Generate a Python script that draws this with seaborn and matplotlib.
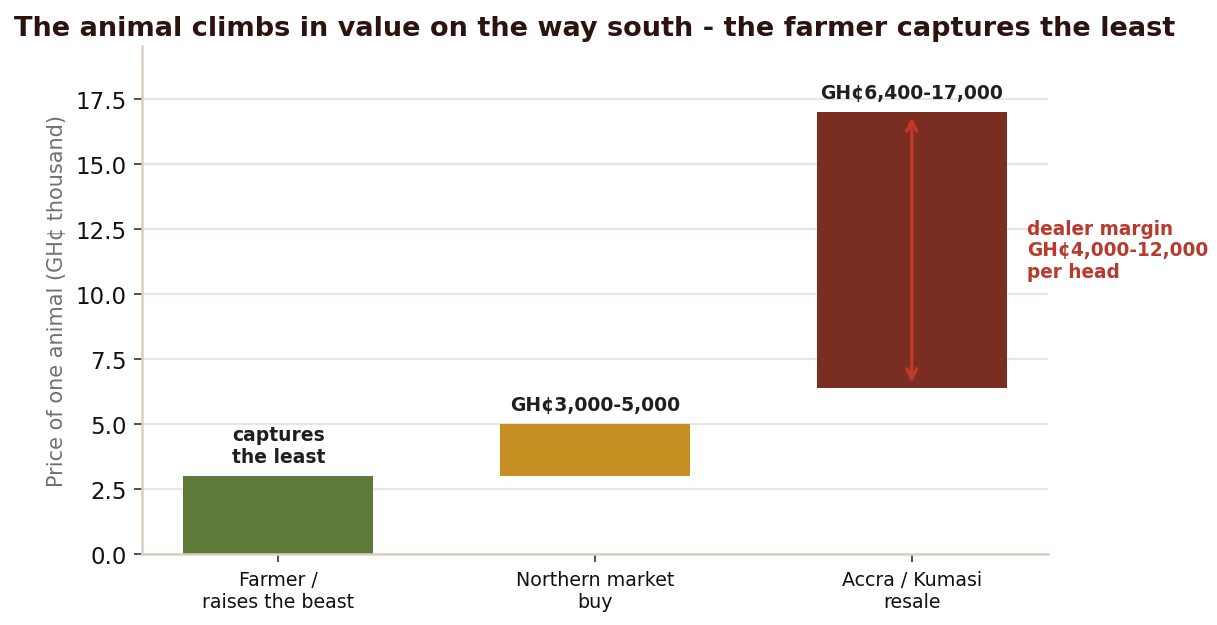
import matplotlib
matplotlib.use("Agg")
import matplotlib.pyplot as plt
import seaborn as sns
import numpy as np

stages = ["Farmer /\nraises the beast", "Northern market\nbuy", "Accra / Kumasi\nresale"]
price_low = [0.0, 3.0, 6.4]
price_high = [3.0, 5.0, 17.0]
bar_labels = ["captures\nthe least", "GH¢3,000-5,000", "GH¢6,400-17,000"]
bar_colors = ["#5f7a38", "#c68f22", "#7a2e22"]
margin_text = "dealer margin\nGH¢4,000-12,000\nper head"

sns.set_style("white")
plt.rcParams["font.family"] = ["DejaVu Sans"]

fig = plt.figure(figsize=(1217 / 150, 626 / 150), dpi=150)
ax = fig.add_axes([142 / 1217, 71 / 626, 906 / 1217, 508 / 626])

heights = np.array(price_high) - np.array(price_low)
sns.barplot(x=stages, y=heights, hue=stages, palette=bar_colors, legend=False,
            width=0.6, saturation=1, linewidth=0, ax=ax, zorder=2)
for patch, low in zip(ax.patches, price_low):
    patch.set_y(low)

for i, (hi, lab) in enumerate(zip(price_high, bar_labels)):
    ax.text(i, hi + 0.4, lab, ha="center", va="bottom", fontsize=9,
            fontweight="bold", color="#1f1f1f", linespacing=1.15)

# dealer margin arrow
ax.annotate("", xy=(2, price_low[2] + 0.2), xytext=(2, price_high[2] - 0.2),
            arrowprops=dict(arrowstyle="<->", color="#c0392b", lw=1.6, mutation_scale=12,
                            shrinkA=0, shrinkB=0),
            zorder=3)
ax.text(2.363, 11.7, margin_text, ha="left", va="center", fontsize=8.9,
        fontweight="bold", color="#b83a2c", clip_on=False, linespacing=1.15)

ax.set_ylim(0, 19.55)
ax.set_xlim(-0.43, 2.43)
ax.set_yticks(np.arange(0, 18, 2.5))
ax.yaxis.grid(True, color="#ece6da", lw=1, zorder=0)
ax.set_axisbelow(True)
ax.tick_params(axis="y", labelsize=11, length=4, color="#333333", labelcolor="#111111", left=True)
ax.tick_params(axis="x", labelsize=9.1, length=4, color="#333333", labelcolor="#111111", bottom=True)
ax.set_ylabel("Price of one animal (GH¢ thousand)", fontsize=10, color="#707070")
sns.despine(ax=ax)
for s in ["left", "bottom"]:
    ax.spines[s].set_color("#d8d0c4")
    ax.spines[s].set_linewidth(1.2)

fig.suptitle("The animal climbs in value on the way south - the farmer captures the least",
             x=595 / 1217, y=0.975, fontsize=13, fontweight="bold", color="#2b1410")

fig.savefig("out.png", dpi=150)
